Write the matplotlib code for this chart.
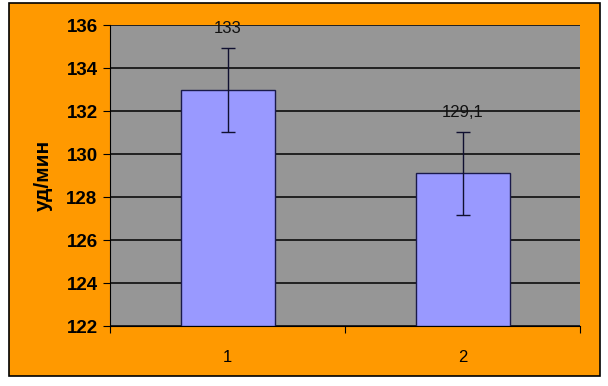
import matplotlib.pyplot as plt
from matplotlib.patches import Rectangle

# data
groups = ["1", "2"]
values = [133, 129.1]
errors = [1.95, 1.95]
value_labels = ["133", "129,1"]

plt.rcParams['font.family'] = ['Liberation Sans', 'DejaVu Sans']

fig = plt.figure(figsize=(6.08, 3.86), dpi=100)
fig.patch.set_facecolor('white')

# orange frame behind everything
fig.patches.append(Rectangle((0.015, 0.026), 0.972, 0.966, transform=fig.transFigure,
                             facecolor='#FF9900', edgecolor='black', linewidth=1.2, zorder=-5))

ax = fig.add_axes([0.181, 0.155, 0.773, 0.78])
ax.set_facecolor('#969696')

x = [0, 1]
ax.bar(x, [v - 122 for v in values], bottom=122, width=0.4, color='#9999FF',
       edgecolor='#1a1a4a', linewidth=1, zorder=3)
ax.errorbar(x, values, yerr=errors, fmt='none', ecolor='#101030', elinewidth=1,
            capsize=5, capthick=1, zorder=4)

for xi, v, lab in zip(x, values, value_labels):
    ax.text(xi, v + 2.85, lab, ha='center', va='center', fontsize=12, color='#111111', zorder=5)

ax.set_xlim(-0.5, 1.5)
ax.set_ylim(122, 136)
ax.set_yticks(range(122, 137, 2))
ax.set_yticklabels([str(t) for t in range(122, 137, 2)], fontsize=13.5, fontweight='bold')
ax.yaxis.grid(True, color='black', linewidth=1.1, zorder=1)
ax.set_axisbelow(True)

# category boundary ticks on x, labels centred under bars
ax.set_xticks([-0.5, 0.5, 1.5])
ax.set_xticklabels([])
ax.set_xticks(x, minor=True)
ax.set_xticklabels(groups, minor=True, fontsize=12)
ax.tick_params(axis='x', which='minor', length=0, pad=17)
ax.tick_params(axis='x', which='major', length=5, direction='out')
ax.tick_params(axis='y', length=5, direction='out', pad=4)

for s in ['top', 'right']:
    ax.spines[s].set_visible(False)
ax.spines['left'].set_color('black')
ax.spines['bottom'].set_color('black')

ax.set_ylabel('уд/мин', fontsize=15, fontweight='bold', labelpad=10)

fig.savefig('out.png', dpi=100, facecolor=fig.get_facecolor())
